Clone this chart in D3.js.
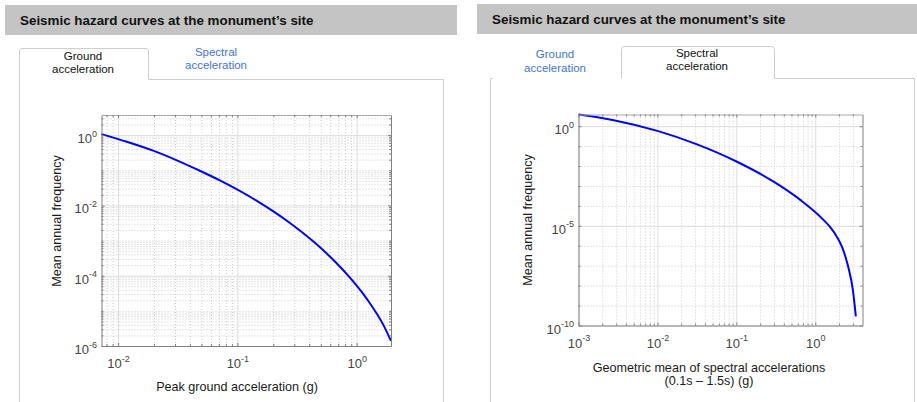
<!DOCTYPE html>
<html><head><meta charset="utf-8">
<script src="https://cdn.jsdelivr.net/npm/d3@7"></script>
<style>
body{margin:0;background:#fff;}
svg{display:block;}
svg text{font-family:Arial,"Liberation Sans",sans-serif;}
</style>
</head><body>
<svg id="c" width="917" height="402"></svg>
<script>
// ---------- data ----------
const chartTitle = "Seismic hazard curves at the monument\u2019s site";
const tabGround = ["Ground", "acceleration"];
const tabSpectral = ["Spectral", "acceleration"];

// Peak ground acceleration hazard curve (g, mean annual frequency)
const pgaX = [0.00726, 0.01183, 0.01966, 0.03108, 0.04845, 0.07131, 0.1457, 0.2652,
              0.4468, 0.6577, 0.8785, 1.2202, 1.6944, 1.94];
const pgaY = [1.068, 0.6477, 0.3607, 0.1918, 0.09676, 0.05145, 0.01345, 0.00349,
              8.598e-4, 2.528e-4, 8.767e-5, 2.159e-5, 3.678e-6, 1.398e-6];

// Spectral acceleration hazard curve (g, mean annual frequency)
const saX = [0.001, 0.0028, 0.01, 0.0318, 0.102, 0.297, 0.646, 1.27, 1.548, 1.883, 2.197, 2.418, 2.64, 3.0, 3.27];
const saY = [3.85, 2.0, 0.58, 0.122, 0.0164, 0.00164, 2e-4, 2e-5, 8.51e-6, 2.786e-6, 8.22e-7, 2.72e-7, 7.59e-8, 6.03e-9, 2.88e-10];

const pgaXTicks = [1e-2, 1e-1, 1e0];
const pgaYTicks = [1e-6, 1e-4, 1e-2, 1e0];
const saXTicks = [1e-3, 1e-2, 1e-1, 1e0];
const saYTicks = [1e-10, 1e-5, 1e0];

const pgaXTitle = ["Peak ground acceleration (g)"];
const saXTitle = ["Geometric mean of spectral accelerations", "(0.1s \u2013 1.5s) (g)"];
const yTitle = "Mean annual frequency";

// ---------- drawing ----------
const FONT = "Arial, 'Liberation Sans', sans-serif";
const svg = d3.select("#c");
svg.append("rect").attr("width", 917).attr("height", 402).attr("fill", "#fff");

const BORDER = "#cfcfcf";
const BLUE_TXT = "#4275d8";

function header(x, y, w, h, tx, ty) {
  svg.append("rect").attr("x", x).attr("y", y).attr("width", w).attr("height", h).attr("fill", "#c4c4c4");
  svg.append("text").attr("x", tx).attr("y", ty).attr("font-size", 13.4).attr("font-weight", "bold")
    .attr("font-family", FONT).attr("fill", "#111").text(chartTitle);
}
header(5, 5, 452, 30, 20, 25);
header(477, 4, 440, 30, 492, 24);

function tabText(lines, cx, y0, color) {
  const t = svg.append("text").attr("text-anchor", "middle").attr("font-size", 11.5)
    .attr("font-family", FONT).attr("fill", color);
  lines.forEach((l, i) => t.append("tspan").attr("x", cx).attr("y", y0 + i * 13.3).text(l));
}

// left panel frame (active tab = Ground)
svg.append("path").attr("fill", "none").attr("stroke", BORDER).attr("stroke-width", 1)
  .attr("d", "M19.5,402 L19.5,51 Q19.5,48.5 22,48.5 L146,48.5 Q148.5,48.5 148.5,51 L148.5,79.5 L443.5,79.5 L443.5,402");
tabText(tabGround, 83, 60, "#111");
tabText(tabSpectral, 216, 56, BLUE_TXT);

// right panel frame (active tab = Spectral)
svg.append("path").attr("fill", "none").attr("stroke", BORDER).attr("stroke-width", 1)
  .attr("d", "M490.5,402 L490.5,78.5 L492.5,78.5");
svg.append("path").attr("fill", "none").attr("stroke", BORDER).attr("stroke-width", 1)
  .attr("d", "M621.5,78.5 L621.5,49.5 Q621.5,46.5 624.5,46.5 L771,46.5 Q774.5,46.5 774.5,49.5 L774.5,78.5 L914.5,78.5 L914.5,402");
tabText(tabGround, 555, 58.3, BLUE_TXT);
tabText(tabSpectral, 697, 56.7, "#111");

function decadeValues(lo, hi, ks) {
  const out = [];
  for (let e = Math.floor(Math.log10(lo)) - 1; e <= Math.ceil(Math.log10(hi)); e++) {
    for (const k of ks) {
      const v = k * Math.pow(10, e);
      if (v >= lo * 0.9999 && v <= hi * 1.0001) out.push(v);
    }
  }
  return out;
}
const ALLK = [1, 2, 3, 4, 5, 6, 7, 8, 9];

function supLabel(sel) {
  sel.each(function (d) {
    const t = d3.select(this);
    t.text(null);
    t.append("tspan").text("10");
    t.append("tspan").attr("font-size", 9).attr("dy", -6.5).text(String(Math.round(Math.log10(d))));
  });
}

function drawPlot(cfg) {
  const g = svg.append("g");
  const x = d3.scaleLog().domain(cfg.xDomain).range([cfg.left, cfg.right]);
  const y = d3.scaleLog().domain(cfg.yDomain).range([cfg.bottom, cfg.top]);
  const h = cfg.bottom - cfg.top, w = cfg.right - cfg.left;
  const isMaj = (ticks, v) => ticks.some(t => Math.abs(Math.log10(t) - Math.log10(v)) < 1e-6);
  const xMinor = decadeValues(cfg.xDomain[0], cfg.xDomain[1], cfg.xMinorK).filter(v => !isMaj(cfg.xTicks, v));
  const yMinor = decadeValues(cfg.yDomain[0], cfg.yDomain[1], cfg.yMinorK).filter(v => !isMaj(cfg.yTicks, v));

  // minor grid
  const gm = g.append("g");
  gm.append("g").attr("transform", `translate(0,${cfg.bottom})`)
    .call(d3.axisBottom(x).tickValues(xMinor).tickSize(-h).tickFormat(""));
  gm.append("g").attr("transform", `translate(${cfg.left},0)`)
    .call(d3.axisLeft(y).tickValues(yMinor).tickSize(-w).tickFormat(""));
  gm.selectAll(".domain").remove();
  gm.selectAll("line").attr("stroke", "#cdcdcd").attr("stroke-dasharray", "1,2").attr("stroke-width", 1);

  // major grid
  const gM = g.append("g");
  gM.append("g").attr("transform", `translate(0,${cfg.bottom})`)
    .call(d3.axisBottom(x).tickValues(cfg.xTicks).tickSize(-h).tickFormat(""));
  gM.append("g").attr("transform", `translate(${cfg.left},0)`)
    .call(d3.axisLeft(y).tickValues(cfg.yTicks).tickSize(-w).tickFormat(""));
  gM.selectAll(".domain").remove();
  gM.selectAll("line").attr("stroke", "#dedede").attr("stroke-width", 1);

  // curve
  const line = d3.line().x(d => x(d[0])).y(d => y(d[1])).curve(d3.curveMonotoneX);
  g.append("path").datum(cfg.xs.map((v, i) => [v, cfg.ys[i]]))
    .attr("fill", "none").attr("stroke", "#0000ff").attr("stroke-width", 2).attr("d", line);

  // box / axes
  const AX = "#808080";
  const axB = g.append("g").attr("transform", `translate(0,${cfg.bottom})`)
    .call(d3.axisBottom(x).tickValues(cfg.xTicks).tickSizeInner(-3).tickSizeOuter(0));
  const axL = g.append("g").attr("transform", `translate(${cfg.left},0)`)
    .call(d3.axisLeft(y).tickValues(cfg.yTicks).tickSizeInner(-3).tickSizeOuter(0));
  const axT = g.append("g").attr("transform", `translate(0,${cfg.top})`)
    .call(d3.axisTop(x).tickValues(cfg.xTicks).tickSizeInner(-3).tickSizeOuter(0).tickFormat(""));
  const axR = g.append("g").attr("transform", `translate(${cfg.right},0)`)
    .call(d3.axisRight(y).tickValues(cfg.yTicks).tickSizeInner(-3).tickSizeOuter(0).tickFormat(""));
  // minor ticks
  const mB = g.append("g").attr("transform", `translate(0,${cfg.bottom})`)
    .call(d3.axisBottom(x).tickValues(xMinor).tickSize(-2).tickFormat(""));
  const mT = g.append("g").attr("transform", `translate(0,${cfg.top})`)
    .call(d3.axisTop(x).tickValues(xMinor).tickSize(-2).tickFormat(""));
  const mL = g.append("g").attr("transform", `translate(${cfg.left},0)`)
    .call(d3.axisLeft(y).tickValues(yMinor).tickSize(-2).tickFormat(""));
  const mR = g.append("g").attr("transform", `translate(${cfg.right},0)`)
    .call(d3.axisRight(y).tickValues(yMinor).tickSize(-2).tickFormat(""));
  [mB, mT, mL, mR].forEach(s => s.select(".domain").remove());
  [axB, axL, axT, axR, mB, mT, mL, mR].forEach(s => {
    s.attr("font-family", FONT);
    s.selectAll("line").attr("stroke", AX);
    s.select(".domain").attr("stroke", AX);
  });
  axT.select(".domain").attr("stroke", "#a8a8a8");

  axB.selectAll("text").attr("y", 22).attr("dy", null).attr("font-size", 13)
    .attr("fill", "#444").attr("font-family", FONT).call(supLabel);
  axL.selectAll("text").attr("x", -4.5).attr("dy", null).attr("y", 7.5).attr("font-size", 13)
    .attr("fill", "#444").attr("font-family", FONT).call(supLabel);

  // axis titles
  const xt = g.append("text").attr("text-anchor", "middle").attr("font-size", 12.6)
    .attr("font-family", FONT).attr("fill", "#1a1a1a");
  cfg.xTitle.forEach((l, i) => xt.append("tspan").attr("x", cfg.xTitleX).attr("y", cfg.xTitleY + i * 13.4).text(l));
  g.append("text").attr("text-anchor", "middle").attr("font-size", 12.6).attr("font-family", FONT)
    .attr("fill", "#1a1a1a")
    .attr("transform", `translate(${cfg.yTitleX},${cfg.yTitleY}) rotate(-90)`).text(yTitle);
}

drawPlot({
  left: 101.5, right: 391, top: 115, bottom: 346,
  xDomain: [0.00726, 1.94], yDomain: [1e-6, 3.73],
  xTicks: pgaXTicks, yTicks: pgaYTicks, xMinorK: ALLK, yMinorK: ALLK,
  xs: pgaX, ys: pgaY,
  xTitle: pgaXTitle, xTitleX: 237, xTitleY: 390.5, yTitleX: 61, yTitleY: 221
});

drawPlot({
  left: 578.5, right: 862.5, top: 114.5, bottom: 325.5,
  xDomain: [0.001, 3.97], yDomain: [1e-10, 3.85],
  xTicks: saXTicks, yTicks: saYTicks, xMinorK: ALLK, yMinorK: [1],
  xs: saX, ys: saY,
  xTitle: saXTitle, xTitleX: 709, xTitleY: 371.5, yTitleX: 531.5, yTitleY: 220
});
</script>
</body></html>
